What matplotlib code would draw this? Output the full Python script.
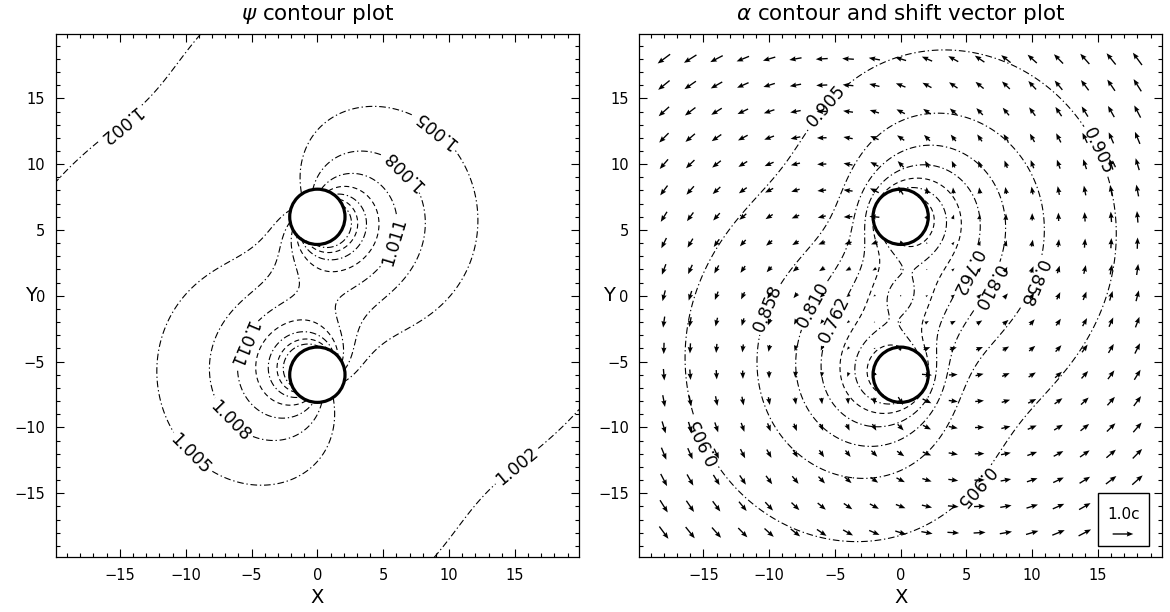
import numpy as np
import matplotlib.pyplot as plt
from matplotlib.patches import Circle, Rectangle
from matplotlib.ticker import MultipleLocator

plt.rcParams['font.family'] = ['DejaVu Sans']
plt.rcParams['mathtext.fontset'] = 'dejavusans'

# black holes (centres) and excision radius
bh_x = [0.0, 0.0]
bh_y = [6.0, -6.0]
bh_sign = [1.0, -1.0]
bh_radius = 2.1
excise = 2.0
lim = 19.87

# contour levels
psi_levels = [1.002, 1.005, 1.008, 1.011, 1.014, 1.017, 1.020, 1.023]
psi_styles = ['dd', 'dd', 'dd', 'dd', 'da', 'dd', 'da', 'dd']
alpha_levels = [0.524, 0.572, 0.619, 0.667, 0.714, 0.762, 0.810, 0.858, 0.905]
alpha_styles = ['da', 'dd', 'da', 'dd', 'da', 'dd', 'dd', 'dd', 'dd']

# contour label positions (flip = drawn upside down)
psi_lab_level = [1.002, 1.002, 1.005, 1.005, 1.008, 1.008, 1.011, 1.011]
psi_lab_x = [-15.4, 16.0, 9.4, -10.3, 6.6, -6.8, 5.6, -5.3]
psi_lab_y = [13.5, -14.0, 13.2, -12.7, 9.6, -9.7, 4.2, -3.8]
psi_lab_flip = [True, False, True, False, True, False, False, True]

alpha_lab_level = [0.905, 0.905, 0.905, 0.905, 0.858, 0.858, 0.810, 0.810, 0.762, 0.762]
alpha_lab_x = [-5.3, 15.8, -15.9, 5.1, -10.0, 10.0, -6.8, 6.8, -5.0, 5.0]
alpha_lab_y = [14.1, 11.4, -11.4, -14.1, -1.0, 1.0, -0.6, 0.6, -1.8, 1.8]
alpha_lab_flip = [False, False, True, True, False, True, False, True, False, True]

# field model parameters (estimated so the contours follow the picture)
psi_mass, psi_offset = 0.030, -0.0004
psi_dip_far, psi_soft_far = 0.29, 5.0
psi_dip_near, psi_soft_near, psi_near_angle = 0.056, 1.0, -45.0
alpha_mass, alpha_soft = 0.65, 1.5
alpha_core, alpha_core_soft = 0.28, 2.0
alpha_dip, alpha_dip_soft = 5.0, 5.0
omega, push, push_len = 0.029, 0.46, 3.5
arrow_unit = 1.57   # data length of a 1.0c arrow

vec_x = np.arange(-18, 19, 2)
vec_y = np.arange(-18, 19, 2)

dashes = {'dd': (0, (6, 2.5, 1.2, 2.5)), 'da': (0, (4.5, 3))}
arrow_kw = dict(angles='xy', scale_units='xy', scale=1 / arrow_unit,
                pivot='middle', width=0.0026, headwidth=3.8, headlength=4.8,
                headaxislength=4.3, color='black')


def psi_field(X, Y):
    f = np.ones_like(X) + psi_offset
    ca, sa = np.cos(np.radians(psi_near_angle)), np.sin(np.radians(psi_near_angle))
    for cx, cy, s in zip(bh_x, bh_y, bh_sign):
        dx, dy = X - cx, Y - cy
        r2 = dx**2 + dy**2
        f += psi_mass / np.sqrt(r2 + 1e-9)
        f += s * psi_dip_far * dx / (r2 + psi_soft_far**2)**1.5
        f += s * psi_dip_near * (ca * dx + sa * dy) / (r2 + psi_soft_near**2)**1.5
    return f


def alpha_field(X, Y):
    f = 1 - alpha_core / np.sqrt(X**2 + Y**2 + alpha_core_soft**2)
    for cx, cy, s in zip(bh_x, bh_y, bh_sign):
        dx, dy = X - cx, Y - cy
        r2 = dx**2 + dy**2
        f -= alpha_mass / np.sqrt(r2 + alpha_soft**2)
        f -= s * alpha_dip * dx / (r2 + alpha_dip_soft**2)**1.5
    return f


def shift_field(X, Y):
    bx, by = -omega * Y, omega * X
    for cx, cy in zip(bh_x, bh_y):
        dx, dy = X - cx, Y - cy
        r = np.sqrt(dx**2 + dy**2) + 1e-9
        g = push / (1 + r / push_len)
        bx = bx + g * dx / r
        by = by + g * dy / r
    return bx, by


def excised(X, Y, rad):
    m = np.zeros_like(X, dtype=bool)
    for cx, cy in zip(bh_x, bh_y):
        m |= (X - cx)**2 + (Y - cy)**2 < rad**2
    return m


def style_axes(ax, title, ylab_x):
    ax.set_xlim(-lim, lim)
    ax.set_ylim(-lim, lim)
    ax.set_xticks(range(-15, 16, 5))
    ax.set_yticks(range(-15, 16, 5))
    ax.xaxis.set_minor_locator(MultipleLocator(1))
    ax.yaxis.set_minor_locator(MultipleLocator(1))
    ax.tick_params(which='both', direction='in', top=True, right=True,
                   labelsize=10.5, width=0.8)
    ax.tick_params(which='major', length=5.5, pad=7.5)
    ax.tick_params(which='minor', length=3)
    ax.set_xlabel('X', fontsize=14, va='center')
    ax.set_ylabel('Y', fontsize=14, rotation=0, va='center', ha='center')
    ax.xaxis.set_label_coords(0.5, -0.077)
    ax.yaxis.set_label_coords(ylab_x, 0.5)
    ax.set_title(title, fontsize=15.5, pad=10)
    for sp in ax.spines.values():
        sp.set_linewidth(0.9)


def draw_contours(ax, X, Y, Z, levels, styles, lab_level, lab_x, lab_y, lab_flip):
    # one contour set per level so that each label goes on its own level
    sets = {}
    for lev, st in zip(levels, styles):
        sets[lev] = ax.contour(X, Y, Z, levels=[lev], colors='black',
                               linewidths=0.8, linestyles=[dashes[st]])
    for lev, x, y, flip in zip(lab_level, lab_x, lab_y, lab_flip):
        txts = sets[lev].clabel(manual=[(x, y)], inline=True, fmt='%.3f',
                                fontsize=12.5, inline_spacing=3)
        t = txts[-1]
        if flip:
            t.set_rotation(t.get_rotation() + 180)


fig = plt.figure(figsize=(11.7, 6.12), dpi=100)
ax1 = fig.add_axes([0.0476, 0.0894, 0.4473, 0.8546])
ax2 = fig.add_axes([0.5464, 0.0894, 0.4468, 0.8546])

g = np.linspace(-lim, lim, 500)
X, Y = np.meshgrid(g, g)
mask = excised(X, Y, excise)

psi = np.ma.masked_where(mask, psi_field(X, Y))
alpha = np.ma.masked_where(mask, alpha_field(X, Y))

# left: psi
style_axes(ax1, r'$\psi$ contour plot', -0.047)
draw_contours(ax1, X, Y, psi, psi_levels, psi_styles,
              psi_lab_level, psi_lab_x, psi_lab_y, psi_lab_flip)

# right: alpha + shift vectors
style_axes(ax2, r'$\alpha$ contour and shift vector plot', -0.058)
draw_contours(ax2, X, Y, alpha, alpha_levels, alpha_styles,
              alpha_lab_level, alpha_lab_x, alpha_lab_y, alpha_lab_flip)

VX, VY = np.meshgrid(vec_x, vec_y)
keep = ~excised(VX, VY, excise)
BX, BY = shift_field(VX.astype(float), VY.astype(float))
ax2.quiver(VX[keep], VY[keep], BX[keep], BY[keep], zorder=2, **arrow_kw)

for ax in (ax1, ax2):
    for cx, cy in zip(bh_x, bh_y):
        ax.add_patch(Circle((cx, cy), bh_radius, fill=False, ec='black',
                            lw=2.3, zorder=4))

# velocity key
ax2.add_patch(Rectangle((15.0, -19.05), 3.9, 4.05, fc='white', ec='black',
                        lw=1.0, zorder=5))
ax2.text(16.95, -16.6, '1.0c', ha='center', va='center', fontsize=11, zorder=6)
ax2.quiver([16.9], [-18.1], [1.0], [0.0], zorder=6, **arrow_kw)

fig.savefig('out.png', dpi=100)
